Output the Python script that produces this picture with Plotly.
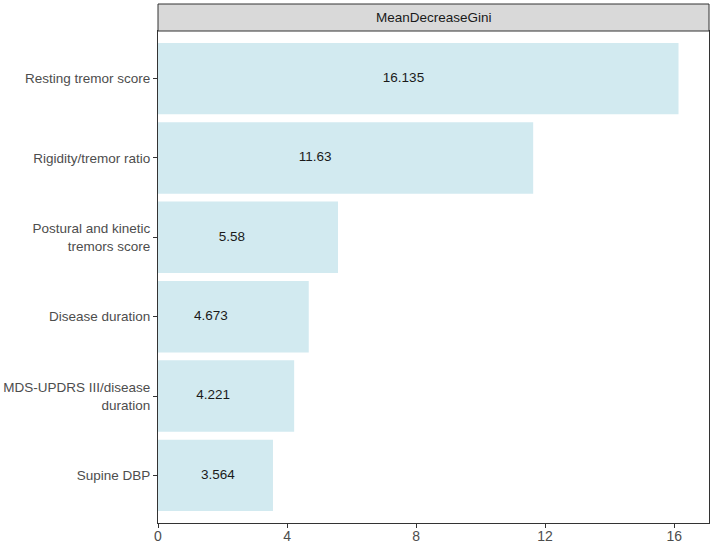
import plotly.graph_objects as go

categories = ["Resting tremor score", "Rigidity/tremor ratio",
              "Postural and kinetic<br>tremors score", "Disease duration",
              "MDS-UPDRS III/disease<br>duration", "Supine DBP"]
values = [16.135, 11.63, 5.58, 4.673, 4.221, 3.564]
value_labels = ["16.135", "11.63", "5.58", "4.673", "4.221", "3.564"]
label_x = [7.61, 4.87, 2.29, 1.64, 1.71, 1.86]
x_ticks = [0, 4, 8, 12, 16]

FONT = "Liberation Sans, Arial, sans-serif"
W, H = 714, 546
L, R, T, B = 158, 5, 31, 23
plot_h = H - T - B

fig = go.Figure()
fig.add_trace(go.Bar(
    x=values, y=categories, orientation="h", width=0.9,
    marker=dict(color="#D2EAF0", line=dict(width=0)),
    hoverinfo="skip", showlegend=False,
))
fig.add_trace(go.Scatter(
    x=label_x, y=categories, mode="text", text=value_labels,
    textfont=dict(family=FONT, size=13.5, color="#1a1a1a"),
    textposition="middle center", showlegend=False, hoverinfo="skip",
))

strip_h = 27 / plot_h
fig.add_shape(type="rect", xref="paper", yref="paper", x0=0, x1=1, y0=1, y1=1 + strip_h,
              fillcolor="#D9D9D9", line=dict(color="#333333", width=1), layer="above")
fig.add_annotation(text="MeanDecreaseGini", xref="paper", yref="paper", x=0.5,
                   y=1 + strip_h / 2, showarrow=False, xanchor="center", yanchor="middle",
                   font=dict(family=FONT, size=13.5, color="#1a1a1a"))

fig.update_layout(
    width=W, height=H,
    margin=dict(l=L, r=R, t=T, b=B, pad=0),
    paper_bgcolor="white", plot_bgcolor="white",
    font=dict(family=FONT),
    bargap=0.1,
)
fig.update_xaxes(
    range=[0, 17.08], tickvals=x_ticks, ticktext=[str(v) for v in x_ticks],
    showgrid=False, zeroline=False, showline=True, linecolor="#333333", linewidth=1,
    mirror=True, ticks="outside", ticklen=4, tickcolor="#333333", tickwidth=1,
    tickfont=dict(family=FONT, size=14, color="#4d4d4d"),
    ticklabelstandoff=-4, automargin=False,
)
fig.update_yaxes(
    type="category", categoryorder="array", categoryarray=categories,
    range=[5.6, -0.6], showgrid=False, zeroline=False, showline=True,
    linecolor="#333333", linewidth=1, mirror=True, ticks="outside", ticklen=4,
    tickcolor="#333333", tickwidth=1, automargin=False,
    tickfont=dict(family=FONT, size=13.5, color="#4d4d4d"),
)

fig.write_html("out.html")
